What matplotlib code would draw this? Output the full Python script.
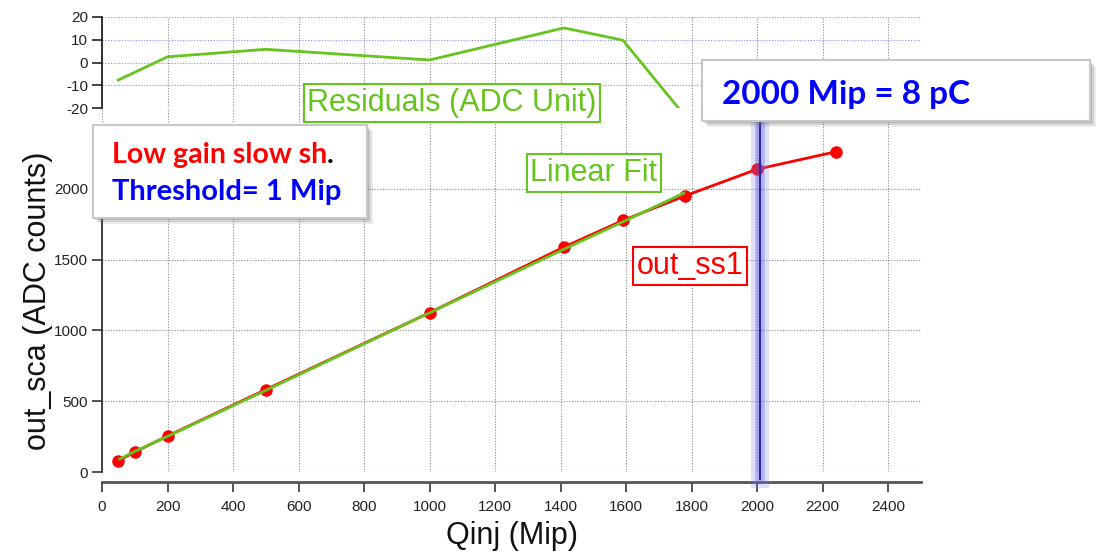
import matplotlib
matplotlib.use('Agg')
import matplotlib.pyplot as plt
from matplotlib.patches import Rectangle
import numpy as np

# measured charge injection points (Mip) and ADC response
qinj = [50, 100, 200, 500, 1000, 1410, 1590, 1780, 2000, 2240]
adc = [80, 141, 254, 582, 1125, 1588, 1776, 1950, 2138, 2261]

# residuals of the linear fit (ADC units), fit covers the first 8 points
res_x = [50, 100, 200, 500, 1000, 1410, 1590, 1780]
res_y = [-7.7, -4.3, 2.5, 5.8, 1.1, 15.2, 9.8, -23.6]

x_ticks = list(range(0, 2401, 200))
y_ticks = [0, 500, 1000, 1500, 2000]
r_ticks = [-20, -10, 0, 10, 20]
marker_q = 2010

GREEN = '#66c41e'
RED = '#ff0000'
BLUE = '#0000ff'

W, H = 1096, 555
plt.rcParams['font.family'] = ['Liberation Sans', 'DejaVu Sans']
plt.rcParams['axes.unicode_minus'] = False


def fx(x):
    return x / W


def fy(y):
    return 1 - y / H


fig = plt.figure(figsize=(W / 100, H / 100), dpi=100)

# main panel
ax = fig.add_axes([fx(102), fy(472), (921 - 102) / W, (472 - 108) / H])
top = (472 - 108) / 347 * 2450
ax.set_xlim(0, 2500)
ax.set_ylim(0, top)
ax.set_xticks(x_ticks)
ax.set_yticks(y_ticks)
ax.grid(True, color='#888888', linestyle=(0, (1, 1.5)), linewidth=0.8)
ax.spines['top'].set_visible(False)
ax.spines['right'].set_visible(False)
ax.spines['bottom'].set_position(('outward', 7))
ax.spines['bottom'].set_color('#555555')
ax.spines['bottom'].set_linewidth(2)
ax.spines['bottom'].set_bounds(0, 2500)
ax.spines['left'].set_color('#333333')
ax.spines['left'].set_linewidth(1.3)
ax.spines['left'].set_bounds(0, 2450)
ax.tick_params(axis='x', direction='out', length=7, width=1.3, color='#444444',
               labelsize=11, labelcolor='#222222', pad=6)
ax.tick_params(axis='y', direction='out', length=7, width=1.3, color='#444444',
               labelsize=11, labelcolor='#222222', pad=3)

fit_y = np.array(adc[:len(res_x)]) - np.array(res_y)
ax.plot(qinj, adc, color=RED, lw=2, marker='o', ms=8, zorder=3)
ax.plot(res_x, fit_y, color=GREEN, lw=2, zorder=4, solid_capstyle='butt')

# highlighted 2000 Mip line
ax.axvline(marker_q, ymin=-0.02, ymax=1, color='#8080f0', lw=13, alpha=0.25,
           clip_on=False, zorder=5)
ax.axvline(marker_q, ymin=-0.02, ymax=1, color='#5050dd', lw=7, alpha=0.3,
           clip_on=False, zorder=5)
ax.axvline(marker_q, ymin=-0.02, ymax=1, color='#2a2aa0', lw=1.5,
           clip_on=False, zorder=6)

# residual panel
rax = fig.add_axes([fx(102), fy(108), (921 - 102) / W, (108 - 17) / H])
rax.set_xlim(0, 2500)
rax.set_ylim(-20, 20)
rax.set_yticks(r_ticks)
rax.set_xticks(x_ticks)
rax.xaxis.grid(True, color='#888888', linestyle=(0, (1, 1.5)), linewidth=0.8)
rax.yaxis.grid(True, color='#8c8cf5', linestyle=(0, (1, 1.5)), linewidth=0.8)
for s in ['top', 'right', 'bottom']:
    rax.spines[s].set_visible(False)
rax.spines['left'].set_color('#222222')
rax.spines['left'].set_linewidth(1.3)
rax.tick_params(axis='x', length=0, labelbottom=False)
rax.tick_params(axis='y', direction='out', length=7, width=1.3, color='#333333',
                labelsize=11, labelcolor='#222222', pad=3)
rax.plot(res_x, res_y, color=GREEN, lw=2)
rax.patch.set_alpha(0)

# axis titles
fig.text(fx(512), fy(536), 'Qinj (Mip)', fontsize=22, ha='center', va='center',
         color='#111111')
fig.text(fx(38), fy(301), 'out_sca (ADC counts)', fontsize=22, rotation=90,
         ha='center', va='center', color='#111111')

# curve labels
fig.text(fx(452), fy(103), 'Residuals (ADC Unit)', fontsize=22, color=GREEN,
         ha='center', va='center',
         bbox=dict(boxstyle='square,pad=0.12', fc='white', ec=GREEN, lw=1.5))
fig.text(fx(594), fy(173), 'Linear Fit', fontsize=22, color=GREEN,
         ha='center', va='center',
         bbox=dict(boxstyle='square,pad=0.12', fc='white', ec=GREEN, lw=1.5))
fig.text(fx(690), fy(266), 'out_ss1', fontsize=22, color=RED,
         ha='center', va='center',
         bbox=dict(boxstyle='square,pad=0.12', fc='white', ec=RED, lw=1.5))


def callout(x0, y0, x1, y1):
    for off, a in [(6, 0.12), (4, 0.18), (2, 0.25)]:
        fig.patches.append(Rectangle((fx(x0 + off), fy(y1 + off)),
                                     (x1 - x0) / W, (y1 - y0) / H,
                                     transform=fig.transFigure, fc='#606060',
                                     ec='none', alpha=a, zorder=10))
    fig.patches.append(Rectangle((fx(x0), fy(y1)), (x1 - x0) / W, (y1 - y0) / H,
                                 transform=fig.transFigure, fc='white',
                                 ec='#c8c8c8', lw=1.5, zorder=11))


callout(93, 125, 367, 218)
callout(702, 60, 1090, 121)

bold = ['Lato', 'DejaVu Sans']
t1 = fig.text(fx(112), fy(163), 'Low gain slow sh', fontsize=20.5, color=RED,
              weight='bold', family=bold, ha='left', va='baseline', zorder=12)
fig.text(fx(112), fy(200), 'Threshold= 1 Mip', fontsize=21, color=BLUE,
         weight='bold', family=bold, ha='left', va='baseline', zorder=12)
fig.text(fx(722), fy(104), '2000 Mip = 8 pC', fontsize=24, color=BLUE,
         weight='bold', family=bold, ha='left', va='baseline', zorder=12)

fig.canvas.draw()
bb = t1.get_window_extent()
fig.text(bb.x1 / W, fy(163), '.', fontsize=20.5, color='black', weight='bold',
         family=bold, ha='left', va='baseline', zorder=12)

fig.savefig('out.png', dpi=100)
